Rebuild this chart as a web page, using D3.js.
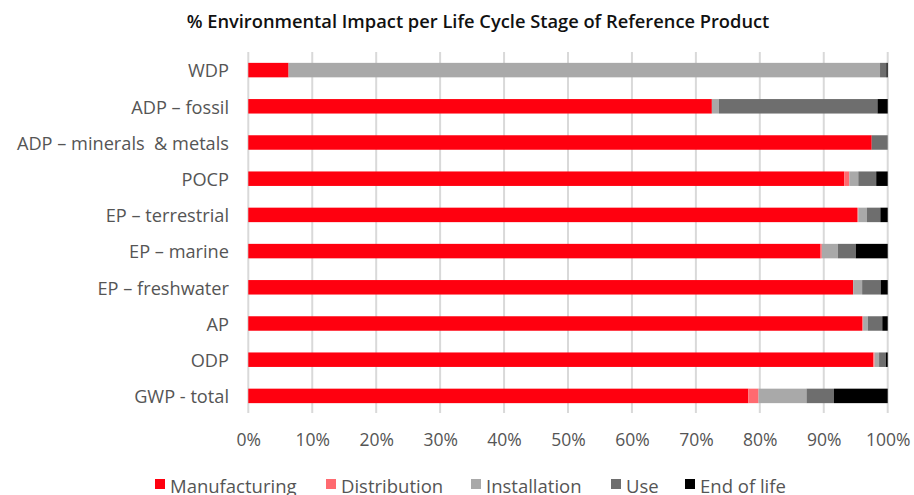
<!DOCTYPE html>
<html><head><meta charset="utf-8">
<script src="https://cdn.jsdelivr.net/npm/d3@7"></script>
<style>body{margin:0;background:#fff}svg{display:block}text{white-space:pre}</style>
</head><body>
<svg id="c" width="914" height="495"></svg>
<script>
const categories = ["WDP","ADP – fossil","ADP – minerals  & metals","POCP","EP – terrestrial","EP – marine","EP – freshwater","AP","ODP","GWP - total"];
const stages = ["Manufacturing","Distribution","Installation","Use","End of life"];
const manufacturing = [6.3, 72.5, 97.5, 93.2, 95.2, 89.5, 94.6, 96.0, 97.75, 78.2];
const distribution  = [0.0, 0.0, 0.0, 0.8, 0.2, 0.2, 0.0, 0.15, 0.2, 1.6];
const installation  = [92.5, 1.1, 0.0, 1.4, 1.35, 2.5, 1.4, 0.75, 0.7, 7.5];
const use           = [1.0, 24.8, 2.5, 2.8, 2.1, 2.8, 2.9, 2.25, 1.05, 4.3];
const endOfLife     = [0.2, 1.6, 0.0, 1.8, 1.15, 5.0, 1.1, 0.85, 0.3, 8.4];
const xTicks = [0,10,20,30,40,50,60,70,80,90,100];
const colors = ["#ff000f","#ff6a70","#a9a9a9","#6e6e6e","#000000"];
const title = "% Environmental Impact per Life Cycle Stage of Reference Product";

const seriesVals = [manufacturing, distribution, installation, use, endOfLife];
const rows = categories.map((c,i)=>{const o={cat:c}; stages.forEach((s,j)=>o[s]=seriesVals[j][i]); return o;});
const stack = d3.stack().keys(stages)(rows);

const svg = d3.select("#c");
const font = "'Open Sans', sans-serif";
const x = d3.scaleLinear().domain([0,100]).range([248.3,887.7]);
const y = d3.scaleBand().domain(categories).range([52,414]).paddingInner(0.6).paddingOuter(0.3);

// grid
svg.append("g").selectAll("line").data(xTicks).join("line")
  .attr("x1",d=>x(d)).attr("x2",d=>x(d)).attr("y1",52).attr("y2",413)
  .attr("stroke","#d9d9d9").attr("stroke-width",2);

// bars
svg.append("g").selectAll("g").data(stack).join("g")
  .attr("fill",(d,i)=>colors[i])
  .selectAll("rect").data(d=>d).join("rect")
  .attr("x",d=>x(d[0])).attr("width",d=>Math.max(0,x(d[1])-x(d[0])))
  .attr("y",d=>y(d.data.cat)).attr("height",y.bandwidth());

// y labels
const yAxis = svg.append("g").attr("transform","translate(229,1.5)")
  .call(d3.axisLeft(y).tickSize(0).tickPadding(0));
yAxis.select(".domain").remove();
yAxis.selectAll("text").attr("font-family",font).attr("font-size",18.2).attr("fill","#555");

// x labels
const xAxis = svg.append("g").attr("transform","translate(0,430)")
  .call(d3.axisBottom(x).tickValues(xTicks).tickFormat(d=>d+"%").tickSize(0).tickPadding(0));
xAxis.select(".domain").remove();
xAxis.selectAll("text").attr("font-family",font).attr("font-size",17.5).attr("fill","#555").attr("dy","0.9em");

// title
svg.append("text").attr("x",478).attr("y",28).attr("text-anchor","middle")
  .attr("font-family",font).attr("font-size",18.3).attr("font-weight",600).attr("fill","#111").text(title);

// legend
const legX = [155, 326, 471, 611, 685];
const lg = svg.append("g").selectAll("g").data(stages).join("g")
  .attr("transform",(d,i)=>`translate(${legX[i]},479)`);
lg.append("rect").attr("width",10).attr("height",10).attr("fill",(d,i)=>colors[i]);
lg.append("text").attr("x",15).attr("y",14).attr("font-family",font).attr("font-size",18.5).attr("fill","#555").text(d=>d);
</script>
</body></html>
